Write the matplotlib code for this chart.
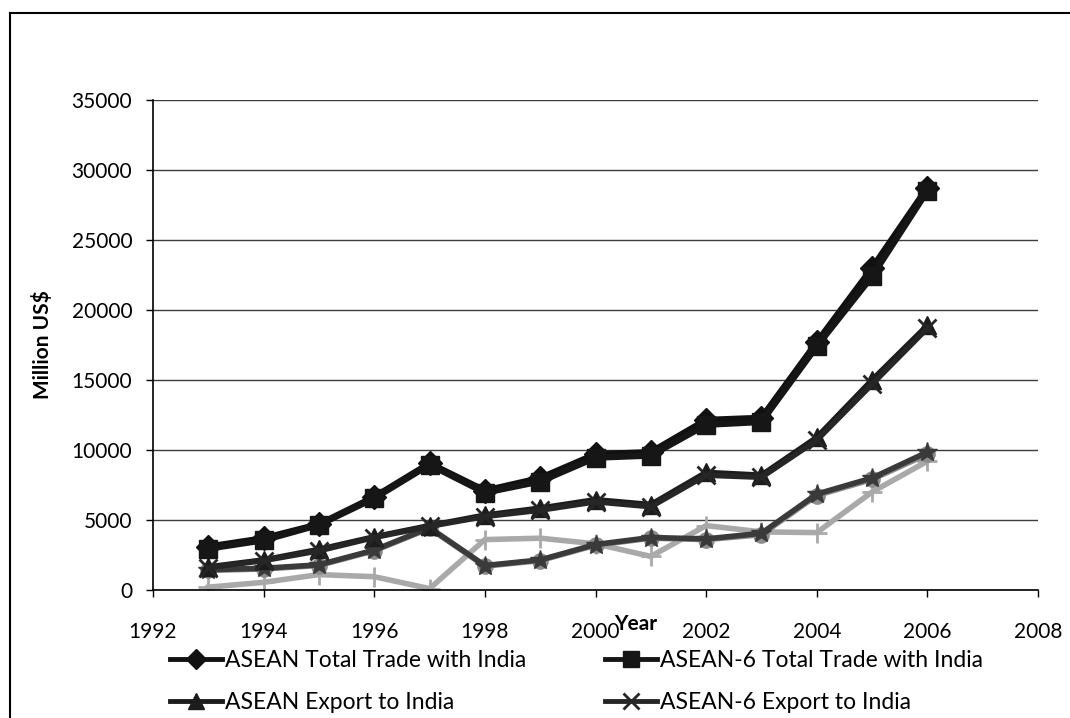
import matplotlib
matplotlib.use("Agg")
import matplotlib.pyplot as plt
from matplotlib.lines import Line2D

plt.rcParams['font.family'] = ['Lato', 'DejaVu Sans']

years = [1993, 1994, 1995, 1996, 1997, 1998, 1999, 2000, 2001, 2002, 2003, 2004, 2005, 2006]

asean_total = [3100, 3700, 4700, 6650, 9050, 7100, 8000, 9700, 9850, 12150, 12300, 17700, 23000, 28750]
asean6_total = [2950, 3550, 4650, 6550, 8950, 6950, 7750, 9450, 9600, 11800, 12000, 17400, 22400, 28500]
asean_export = [1650, 2150, 2900, 3800, 4600, 5350, 5850, 6450, 6100, 8400, 8200, 10900, 15000, 18900]
asean6_export = [1600, 2100, 2800, 3750, 4550, 5250, 5700, 6300, 5950, 8200, 8050, 10700, 14700, 18700]
asean_import = [1450, 1550, 1800, 2850, 4450, 1750, 2150, 3250, 3750, 3650, 4050, 6850, 8000, 9850]
asean6_import = [1400, 1500, 1750, 2800, 4400, 1700, 2100, 3200, 3700, 3600, 3950, 6750, 7900, 9700]
asean_balance = [200, 550, 1100, 950, 100, 3600, 3700, 3300, 2400, 4600, 4150, 4100, 7000, 9200]

legend_labels = ["ASEAN Total Trade with India", "ASEAN-6 Total Trade with India",
                 "ASEAN Export to India", "ASEAN-6 Export to India"]

y_ticks = [0, 5000, 10000, 15000, 20000, 25000, 30000, 35000]
x_ticks = [1992, 1994, 1996, 1998, 2000, 2002, 2004, 2006, 2008]

fig = plt.figure(figsize=(10.70, 7.18), dpi=100)
ax = fig.add_axes([153/1070, 1 - 590/718, (1038-153)/1070, (590-100)/718])

# background series (not in visible legend)
ax.plot(years, asean_balance, color='#a9a9a9', lw=4, marker='+', ms=14, mew=2, zorder=2)
ax.plot(years, asean6_import, color='#8c8c8c', lw=4, marker='o', ms=11, zorder=3)
ax.plot(years, asean_import, color='#3a3a3a', lw=4, marker='*', ms=15, zorder=3)

h1, = ax.plot(years, asean_total, color='#111111', lw=4.5, marker='D', ms=12, zorder=5,
              label=legend_labels[0])
h2, = ax.plot(years, asean6_total, color='#161616', lw=4.5, marker='s', ms=13, zorder=5,
              label=legend_labels[1])
h3, = ax.plot(years, asean_export, color='#1c1c1c', lw=4, marker='^', ms=13, zorder=4,
              label=legend_labels[2])
h4, = ax.plot(years, asean6_export, color='#262626', lw=4, marker='x', ms=13, mew=2, zorder=4,
              label=legend_labels[3])

ax.set_xlim(1992, 2008)
ax.set_ylim(0, 35000)
ax.set_xticks(x_ticks)
ax.set_yticks(y_ticks)
ax.set_xticklabels([str(v) for v in x_ticks])
ax.set_yticklabels([str(v) for v in y_ticks])
ax.tick_params(axis='both', labelsize=15, direction='out', length=5, width=1, colors='black')
ax.tick_params(axis='x', pad=18)
ax.tick_params(axis='y', pad=10)
ax.yaxis.grid(True, color='#3c3c3c', lw=1.0)
ax.set_axisbelow(True)
for s in ['top', 'right']:
    ax.spines[s].set_visible(False)
for s in ['left', 'bottom']:
    ax.spines[s].set_color('black')
    ax.spines[s].set_linewidth(1.2)

fig.text(42/1070, 1 - 345/718, "Million US$", rotation=90, fontsize=15, fontweight='bold',
         ha='center', va='center')
fig.text(636/1070, 1 - 624/718, "Year", fontsize=15, fontweight='bold', ha='center', va='center')

# row-major order: matplotlib fills legend columns first
leg = fig.legend(handles=[h1, h3, h2, h4], ncol=2, loc='upper left',
                 bbox_to_anchor=(170/1070, 1 - 650/718), frameon=False, fontsize=16.5,
                 handlelength=2.27, handletextpad=0.12, columnspacing=3.45,
                 labelspacing=0.9, borderpad=0, borderaxespad=0, markerscale=0.85)
for ln in leg.get_lines():
    ln.set_linewidth(3.5)

# outer chart border (left and top visible)
fig.add_artist(Line2D([10/1070, 10/1070], [0, 1 - 13/718], color='black', lw=1.5))
fig.add_artist(Line2D([10/1070, 1.0], [1 - 13/718, 1 - 13/718], color='black', lw=1.5))

fig.savefig("out.png", dpi=100)
